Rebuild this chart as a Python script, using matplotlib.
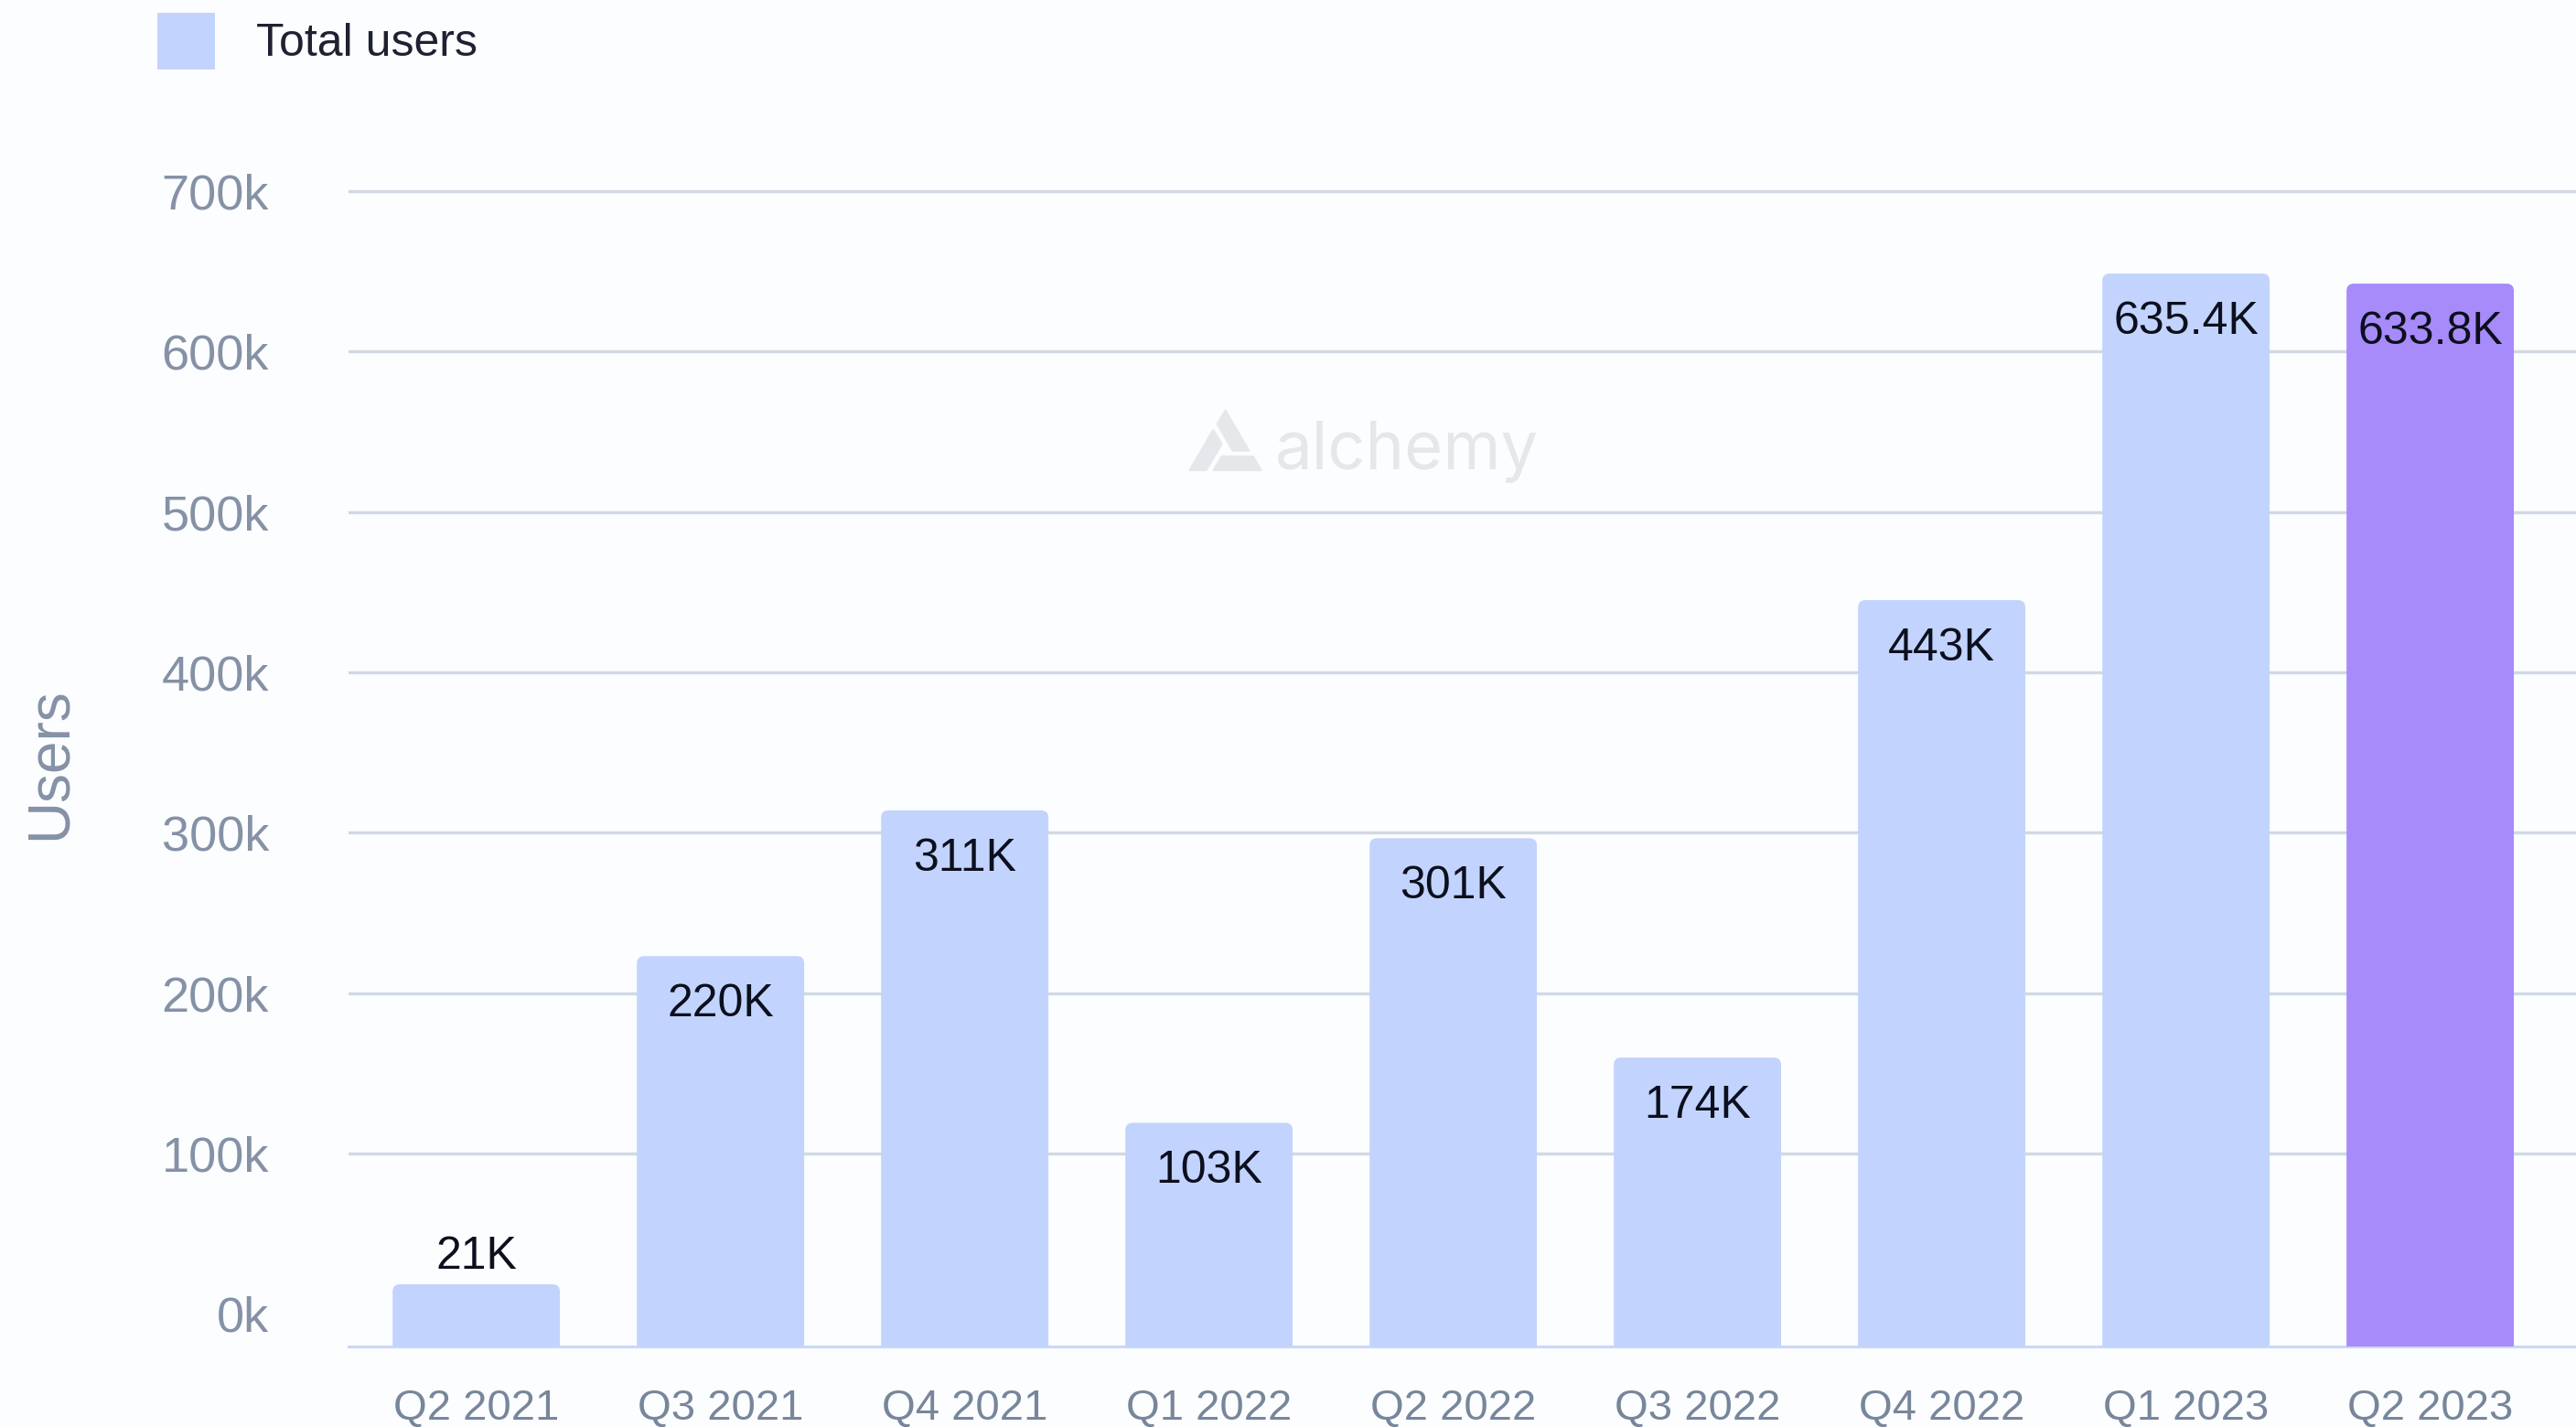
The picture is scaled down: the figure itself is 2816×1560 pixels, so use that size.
import matplotlib
matplotlib.use("Agg")
import matplotlib.pyplot as plt
from matplotlib.patches import FancyBboxPatch, Polygon
import numpy as np

# ---------------- data ----------------
quarters = ["Q2 2021", "Q3 2021", "Q4 2021", "Q1 2022", "Q2 2022",
            "Q3 2022", "Q4 2022", "Q1 2023", "Q2 2023"]
users = [18300, 223000, 313900, 119000, 296500, 159700, 445000, 648700, 642400]
value_labels = ["21K", "220K", "311K", "103K", "301K", "174K", "443K",
                "635.4K", "633.8K"]
ytick_values = [0, 100000, 200000, 300000, 400000, 500000, 600000, 700000]
ytick_labels = ["0k", "100k", "200k", "300k", "400k", "500k", "600k", "700k"]
series_name = "Total users"
y_title = "Users"

# ---------------- style ----------------
W, H, DPI = 2816, 1560, 200
BG = "#fcfdfe"
BAR = "#c2d4fd"
HIGHLIGHT = "#a78bfa"
GRID = "#d0d9e3"
BASE = "#c9d8fb"
TICK_Y = "#8591a6"
TICK_X = "#77869b"
TXT = "#0c0f1d"
FONT = "Liberation Sans"

plt.rcParams["font.family"] = [FONT, "DejaVu Sans"]

fig = plt.figure(figsize=(W / DPI, H / DPI), dpi=DPI, facecolor=BG)
ax = fig.add_axes([381 / W, (H - 1472) / H, (W - 381) / W, 1333 / H])
ax.set_facecolor(BG)

y_bottom = -20500
ax.set_ylim(y_bottom, 740000)
x = np.arange(len(quarters))
ax.set_xlim(-0.523, 8.597)

colors = [BAR] * (len(quarters) - 1) + [HIGHLIGHT]
heights = np.array(users) - y_bottom
bars = ax.bar(x, heights, bottom=y_bottom, width=0.685, color=colors,
              label=series_name, zorder=2)

# rounded tops
px_x = ax.transData.transform((1, 0))[0] - ax.transData.transform((0, 0))[0]
px_y = ax.transData.transform((0, 1))[1] - ax.transData.transform((0, 0))[1]
r_px = 8
ext = 40000
for rect, c in zip(bars, colors):
    rect.set_visible(False)
    p = FancyBboxPatch((rect.get_x(), rect.get_y() - ext), rect.get_width(),
                       rect.get_height() + ext,
                       boxstyle=f"round,pad=0,rounding_size={r_px / px_x}",
                       mutation_aspect=px_x / px_y,
                       fc=c, ec="none", zorder=2)
    ax.add_patch(p)

# value labels
for xi, v, lab in zip(x, users, value_labels):
    bar_px = (v - y_bottom) * px_y
    if bar_px < 100:
        ax.annotate(lab, (xi, v), xytext=(0, 30 * 72 / DPI), textcoords="offset points",
                    ha="center", va="center", fontsize=18, color=TXT, zorder=3)
    else:
        ax.annotate(lab, (xi, v), xytext=(0, -53 * 72 / DPI), textcoords="offset points",
                    ha="center", va="center", fontsize=18, color=TXT, zorder=3)

# axes styling
ax.set_yticks(ytick_values)
ax.set_yticklabels(ytick_labels)
ax.set_xticks(x)
ax.set_xticklabels(quarters)
ax.tick_params(axis="y", length=0, pad=87 * 72 / DPI, labelsize=19.5, labelcolor=TICK_Y)
ax.tick_params(axis="x", length=0, pad=46 * 72 / DPI, labelsize=17, labelcolor=TICK_X)
ax.set_axisbelow(True)
ax.yaxis.grid(True, color=GRID, linewidth=1.2)
ax.xaxis.grid(False)
ax.get_ygridlines()[0].set_visible(False)
for s in ["top", "right", "left"]:
    ax.spines[s].set_visible(False)
ax.spines["bottom"].set_color(BASE)
ax.spines["bottom"].set_linewidth(1.1)
ax.spines["bottom"].set_zorder(1)

ax.set_ylabel(y_title, fontsize=23, color=TICK_Y, ha="center", va="center")
ax.yaxis.set_label_coords((55 - 381) / (W - 381), (1472 - 835) / 1333)

# legend
LFS = 18
lfs_px = LFS * DPI / 72
leg = fig.legend(handles=[bars[0]], labels=[series_name], loc="upper left",
                 bbox_to_anchor=(172 / W, 1 - 14 / H), frameon=False,
                 fontsize=LFS, handlelength=63 / lfs_px,
                 handleheight=((62 / lfs_px) - 0.245) / 0.65,
                 handletextpad=45 / lfs_px, borderpad=0, borderaxespad=0)
for t in leg.get_texts():
    t.set_color("#1e2131")
for h in leg.legend_handles:
    h.set_visible(True)
    h.set_facecolor(BAR)

# watermark
wm = "#e6e7eb"
def fp(pts):
    return [(px / W, 1 - py / H) for px, py in pts]
for pts in ([(1330.5, 463.3), (1339.7, 449), (1365.3, 492.7), (1347.7, 492.7)],
            [(1326.3, 470), (1335.5, 485.3), (1318.6, 514), (1300.6, 514)],
            [(1335.5, 499), (1369.9, 499), (1378.3, 514), (1326.7, 514)]):
    fig.patches.append(Polygon(fp(pts), closed=True, transform=fig.transFigure,
                               fc=wm, ec=wm, lw=0.8, joinstyle="round", zorder=0))
fig.text(1394 / W, 1 - 513 / H, "alchemy", fontsize=26, color=wm,
         family=["Inter", "DejaVu Sans"], ha="left", va="baseline", zorder=0)

fig.savefig("out.png", dpi=DPI, facecolor=BG)
